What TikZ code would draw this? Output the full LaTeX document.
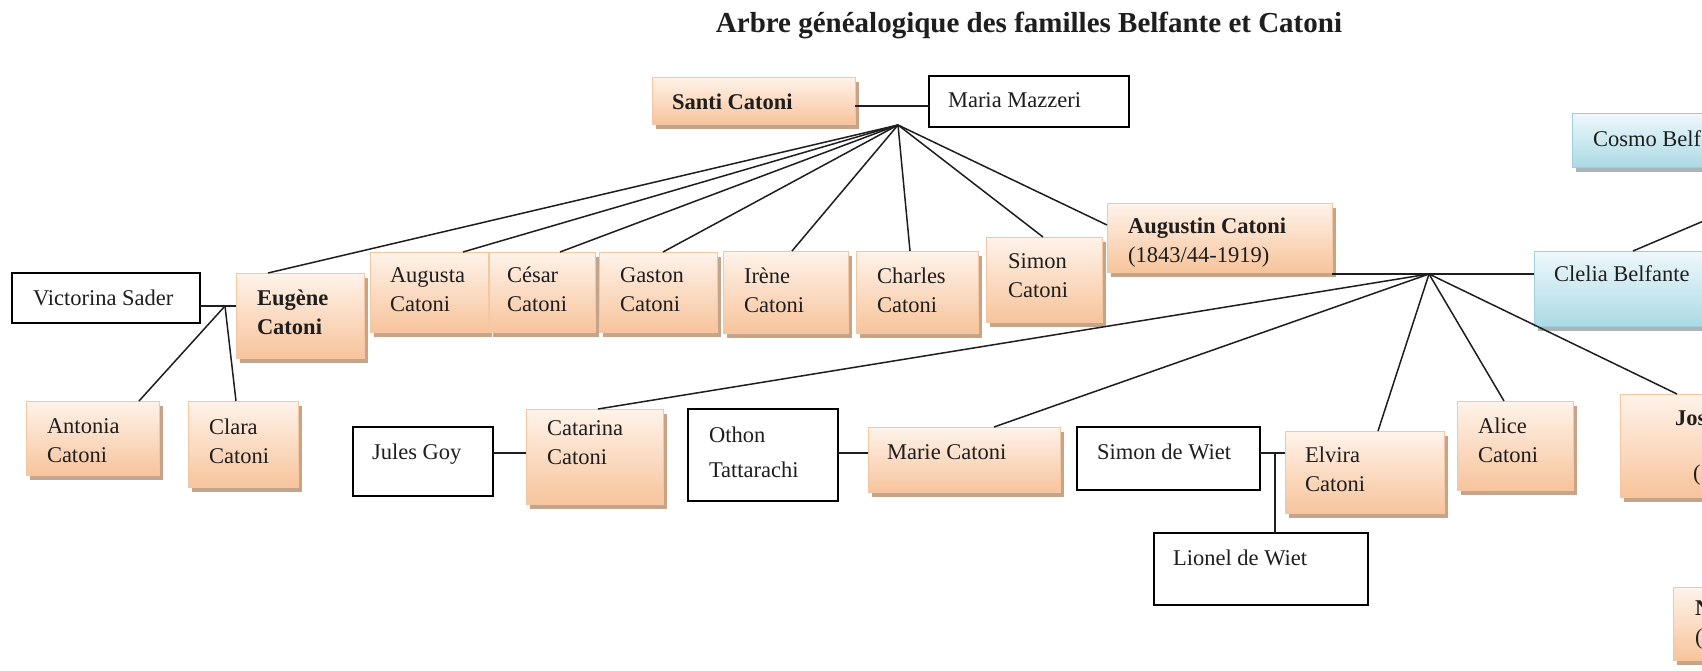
\documentclass[tikz,border=0pt]{standalone}
\usepackage{fontspec}
\setmainfont{Liberation Serif}
\usetikzlibrary{calc,shadows}
\definecolor{ortop}{HTML}{FFF3EA}
\definecolor{orbot}{HTML}{F7C49C}
\definecolor{orline}{HTML}{F5C6A0}
\definecolor{orshadow}{HTML}{C4A58C}
\definecolor{bltop}{HTML}{EEF8FB}
\definecolor{blbot}{HTML}{ABDAE6}
\definecolor{blline}{HTML}{9FCFDC}
\definecolor{blshadow}{HTML}{A9B5B9}
\definecolor{ink}{HTML}{1E1E1E}
\newcommand{\bodyfont}{\fontsize{22.5pt}{29.5pt}\selectfont}
\newcommand{\ptxt}[5]{\parbox[c][#2][t]{#1}{\bodyfont\raggedright\leftskip=#3\relax\rule{0pt}{#4}#5}}
\begin{document}
\begin{tikzpicture}[x=1pt,y=-1pt,
 person/.style={anchor=north west, inner sep=0pt, outer sep=0pt, text=ink},
 obox/.style={person, draw=orline, line width=0.8pt, top color=ortop, bottom color=orbot,
   general shadow={fill=orshadow, shadow xshift=4pt, shadow yshift=-5pt}},
 bbox/.style={person, draw=blline, line width=0.8pt, top color=bltop, bottom color=blbot,
   general shadow={fill=blshadow, shadow xshift=4pt, shadow yshift=-5pt}},
 wbox/.style={person, draw=black, line width=1.4pt, fill=white},
 link/.style={draw=ink, line width=1.5pt}]
\useasboundingbox (0,0) rectangle (1702,670);
\clip (0,0) rectangle (1702,670);
\fill[white] (0,0) rectangle (1702,670);

\node[anchor=base, text=ink, font=\fontsize{29pt}{34pt}\selectfont\bfseries] (title) at (1029,32)
  {Arbre généalogique des familles Belfante et Catoni};

% people
\node[obox] (santi) at (652,77) {\ptxt{203pt}{47pt}{20pt}{32pt}{\textbf{Santi Catoni}}};
\node[wbox] (maria) at (929,76) {\ptxt{200pt}{51pt}{19pt}{31pt}{Maria Mazzeri}};
\node[bbox] (cosmo) at (1572,113) {\ptxt{190pt}{54pt}{21pt}{33pt}{Cosmo Belf}};
\node[wbox] (victorina) at (12,273) {\ptxt{188pt}{50pt}{21pt}{32pt}{Victorina Sader}};
\node[obox] (eugene) at (236,273) {\ptxt{128pt}{85pt}{21pt}{32pt}{\textbf{Eugène}\\\textbf{Catoni}}};
\node[obox] (augusta) at (370,252) {\ptxt{118pt}{80pt}{20pt}{30pt}{Augusta\\Catoni}};
\node[obox] (cesar) at (489,252) {\ptxt{106pt}{80pt}{18pt}{30pt}{César\\Catoni}};
\node[obox] (gaston) at (599,252) {\ptxt{118pt}{80pt}{21pt}{30pt}{Gaston\\Catoni}};
\node[obox] (irene) at (723,251) {\ptxt{125pt}{82pt}{21pt}{32pt}{Irène\\Catoni}};
\node[obox] (charles) at (856,251) {\ptxt{122pt}{82pt}{21pt}{32pt}{Charles\\Catoni}};
\node[obox] (simonc) at (986,237) {\ptxt{116pt}{85pt}{22pt}{31pt}{Simon\\Catoni}};
\node[obox] (augustin) at (1107,203) {\ptxt{225pt}{69pt}{21pt}{30pt}{\textbf{Augustin Catoni}\\(1843/44-1919)}};
\node[bbox] (clelia) at (1534,251) {\ptxt{230pt}{75pt}{20pt}{30pt}{Clelia Belfante}};
\node[obox] (antonia) at (26,401) {\ptxt{133pt}{74pt}{21pt}{32pt}{Antonia\\Catoni}};
\node[obox] (clara) at (188,401) {\ptxt{110pt}{86pt}{21pt}{33pt}{Clara\\Catoni}};
\node[wbox] (jules) at (353,427) {\ptxt{140pt}{69pt}{19pt}{32pt}{Jules Goy}};
\node[obox] (catarina) at (526,409) {\ptxt{137pt}{95pt}{21pt}{26pt}{Catarina\\Catoni}};
\node[wbox] (othon) at (688,409) {\ptxt{150pt}{92pt}{21pt}{33pt}{Othon\\[5.5pt]Tattarachi}};
\node[obox] (marie) at (868,427) {\ptxt{192pt}{65pt}{19pt}{32pt}{Marie Catoni}};
\node[wbox] (simonw) at (1077,427) {\ptxt{183pt}{63pt}{20pt}{32pt}{Simon de Wiet}};
\node[wbox] (lionel) at (1154,533) {\ptxt{214pt}{72pt}{19pt}{32pt}{Lionel de Wiet}};
\node[obox] (elvira) at (1285,431) {\ptxt{159pt}{82pt}{20pt}{31pt}{Elvira\\Catoni}};
\node[obox] (alice) at (1457,401) {\ptxt{116pt}{89pt}{21pt}{32pt}{Alice\\Catoni}};
\node[obox] (jos) at (1620,394) {\ptxt{150pt}{103pt}{55pt}{31pt}{\textbf{Jos}\\[25.5pt]\hspace*{18pt}(}};
\node[obox] (nbox) at (1673,587) {\ptxt{120pt}{73pt}{22pt}{28pt}{\textbf{N}\\(}};

% junction points
\coordinate (hub1) at (898,125);
\coordinate (sm) at (892,106);
\coordinate (hub2) at (225,306);
\coordinate (hub3) at (1429,274);
\coordinate (jc) at (510,453);
\coordinate (om) at (853,453);
\coordinate (se) at (1275,453);
\coordinate (cc) at (1760,197);

% couples
\draw[link] (santi.east |- sm) -- (maria.west |- sm);
\draw[link] (victorina.east |- hub2) -- (eugene.west |- hub2);
\draw[link] (augustin.south east |- hub3) -- (clelia.west |- hub3);
\draw[link] (jules.east |- jc) -- (catarina.west |- jc);
\draw[link] (othon.east |- om) -- (marie.west |- om);
\draw[link] (simonw.east |- se) -- (elvira.west |- se);
\draw[link] (se) -- (lionel.north -| se);
\draw[link] ($(clelia.north west)+(99,0)$) -- (cc);

% children of Santi
\draw[link] (hub1) -- ($(eugene.north west)+(32,0)$);
\draw[link] (hub1) -- ($(augusta.north west)+(93,0)$);
\draw[link] (hub1) -- ($(cesar.north west)+(71,0)$);
\draw[link] (hub1) -- ($(gaston.north west)+(64,0)$);
\draw[link] (hub1) -- ($(irene.north west)+(69,0)$);
\draw[link] (hub1) -- ($(charles.north west)+(54,0)$);
\draw[link] (hub1) -- ($(simonc.north west)+(57,0)$);
\draw[link] (hub1) -- ($(augustin.north west)+(0,22)$);

% children of Eugene
\draw[link] (hub2) -- ($(antonia.north west)+(113,0)$);
\draw[link] (hub2) -- ($(clara.north west)+(48,0)$);

% children of Augustin
\draw[link] (hub3) -- ($(catarina.north west)+(72,0)$);
\draw[link] (hub3) -- ($(marie.north west)+(126,0)$);
\draw[link] (hub3) -- ($(elvira.north west)+(93,0)$);
\draw[link] (hub3) -- ($(alice.north west)+(47,0)$);
\draw[link] (hub3) -- ($(jos.north west)+(57,0)$);
\end{tikzpicture}
\end{document}
